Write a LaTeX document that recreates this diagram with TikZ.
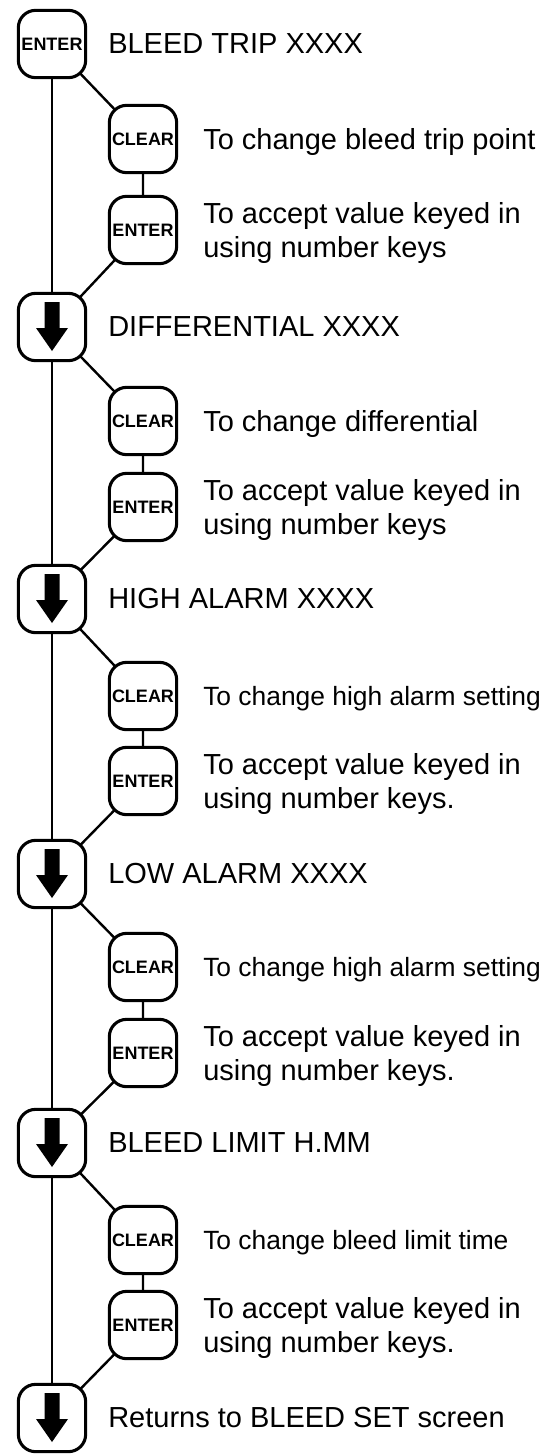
\documentclass[tikz,border=0pt]{standalone}
\usepackage{fontspec}
\setmainfont{Liberation Sans}
\usetikzlibrary{backgrounds}

\begin{document}
\begin{tikzpicture}[x=0.75pt,y=0.75pt,yscale=-1,xscale=1,
  keybox/.style={draw, line width=2.3pt, rounded corners=13pt, fill=white, minimum size=50.5pt, inner sep=0pt, font=\fontsize{13.5}{13.5}\selectfont\bfseries},
  link/.style={line width=1.8pt},
  headtext/.style={anchor=base west, inner sep=0pt, font=\fontsize{21.75}{26}\selectfont},
  infotext/.style={anchor=base west, inner sep=0pt, align=left, font=\fontsize{21.75}{25.5}\selectfont},
  smalltext/.style={infotext, font=\fontsize{19.8}{24}\selectfont},
  downglyph/.pic={\fill (-7.5,25) -- (7.5,25) -- (7.5,-1) -- (16,-1) -- (0,-24) -- (-16,-1) -- (-7.5,-1) -- cycle;}
]
\useasboundingbox (0,0) rectangle (560,1454);

%Keys: main column
\node [keybox] (k0) at (52,44) {ENTER};
\node [keybox] (a1) at (52,327) {};
\node [keybox] (a2) at (52,599) {};
\node [keybox] (a3) at (52,874) {};
\node [keybox] (a4) at (52,1143) {};
\node [keybox] (a5) at (52,1418) {};
\pic at (a1) {downglyph};
\pic at (a2) {downglyph};
\pic at (a3) {downglyph};
\pic at (a4) {downglyph};
\pic at (a5) {downglyph};

%Keys: side column
\node [keybox] (c1) at (143,139) {CLEAR};
\node [keybox] (e1) at (143,230) {ENTER};
\node [keybox] (c2) at (143,421) {CLEAR};
\node [keybox] (e2) at (143,507) {ENTER};
\node [keybox] (c3) at (143,696) {CLEAR};
\node [keybox] (e3) at (143,781) {ENTER};
\node [keybox] (c4) at (143,967) {CLEAR};
\node [keybox] (e4) at (143,1053) {ENTER};
\node [keybox] (c5) at (143,1240) {CLEAR};
\node [keybox] (e5) at (143,1325) {ENTER};

%Connectors, behind the keys
\begin{scope}[on background layer]
\draw [link] (k0.center) -- (a1.center) -- (a2.center) -- (a3.center) -- (a4.center) -- (a5.center);
\draw [link] (k0.center) -- (c1.center) -- (e1.center) -- (a1.center);
\draw [link] (a1.center) -- (c2.center) -- (e2.center) -- (a2.center);
\draw [link] (a2.center) -- (c3.center) -- (e3.center) -- (a3.center);
\draw [link] (a3.center) -- (c4.center) -- (e4.center) -- (a4.center);
\draw [link] (a4.center) -- (c5.center) -- (e5.center) -- (a5.center);
\end{scope}

% Text Node
\node [headtext] (h0) at (108,53.5) {BLEED TRIP XXXX};
% Text Node
\node [headtext] (h1) at (108,336.5) {DIFFERENTIAL XXXX};
% Text Node
\node [headtext] (h2) at (108,608.5) {HIGH ALARM XXXX};
% Text Node
\node [headtext] (h3) at (108,883.5) {LOW ALARM XXXX};
% Text Node
\node [headtext] (h4) at (108,1152.5) {BLEED LIMIT H.MM};
% Text Node
\node [headtext] (h5) at (108,1427.5) {Returns to BLEED SET screen};

% Text Node
\node [infotext] (t1) at (203,149) {To change bleed trip point};
% Text Node
\node [infotext] (u1) at (203,257) {To accept value keyed in\\using number keys};
% Text Node
\node [infotext] (t2) at (203,431) {To change differential};
% Text Node
\node [infotext] (u2) at (203,534) {To accept value keyed in\\using number keys};
% Text Node
\node [smalltext] (t3) at (203,705.5) {To change high alarm setting};
% Text Node
\node [infotext] (u3) at (203,808) {To accept value keyed in\\using number keys.};
% Text Node
\node [smalltext] (t4) at (203,976.5) {To change high alarm setting};
% Text Node
\node [infotext] (u4) at (203,1080) {To accept value keyed in\\using number keys.};
% Text Node
\node [smalltext] (t5) at (203,1249.5) {To change bleed limit time};
% Text Node
\node [infotext] (u5) at (203,1352) {To accept value keyed in\\using number keys.};

\end{tikzpicture}
\end{document}
